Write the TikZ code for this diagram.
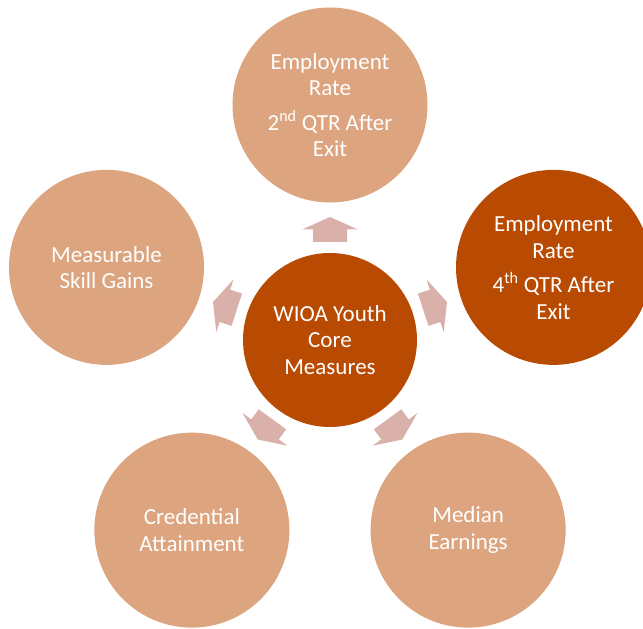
\documentclass[tikz,border=0pt]{standalone}
\usepackage{fontspec}
\setmainfont{Carlito}
\usetikzlibrary{calc}
\definecolor{outerc}{HTML}{DCA47F}
\definecolor{hubc}{HTML}{B94A02}
\definecolor{arrowc}{HTML}{D9B1AA}
\begin{document}
\begin{tikzpicture}[x=1pt,y=1pt,
  disc/.style={circle, inner sep=0pt, text=white, align=center,
    font=\fontsize{23}{26.5}\selectfont},
  outer/.style={disc, fill=outerc, minimum size=195pt},
  hub/.style={disc, fill=hubc, minimum size=174pt},
  blockarrow/.style={fill=arrowc, draw=none}]
\useasboundingbox (0,0) rectangle (643,629);
\coordinate (C) at (330,289);
\node[hub] (hub) at (C) {WIOA Youth\\Core\\Measures};
\node[outer] (top) at ($(C)+(90:235)$) {Employment\\Rate\\[8pt]2\textsuperscript{nd} QTR After\\Exit};
\node[outer, fill=hubc] (right) at ($(C)+(18:235)$) {Employment\\Rate\\[8pt]4\textsuperscript{th} QTR After\\Exit};
\node[outer] (left) at ($(C)+(162:235)$) {Measurable\\Skill Gains};
\node[outer] (bl) at ($(C)+(234:235)$) {Credential\\Attainment};
\node[outer] (br) at ($(C)+(306:235)$) {Median\\Earnings};
\foreach \a in {90,18,162,234,306}{
  \fill[blockarrow, shift={(hub.center)}, rotate=\a]
    (98,-17) -- (110.5,-17) -- (110.5,-27.8) -- (123,0) -- (110.5,27.8) -- (110.5,17) -- (98,17) -- cycle;
}
\end{tikzpicture}
\end{document}
